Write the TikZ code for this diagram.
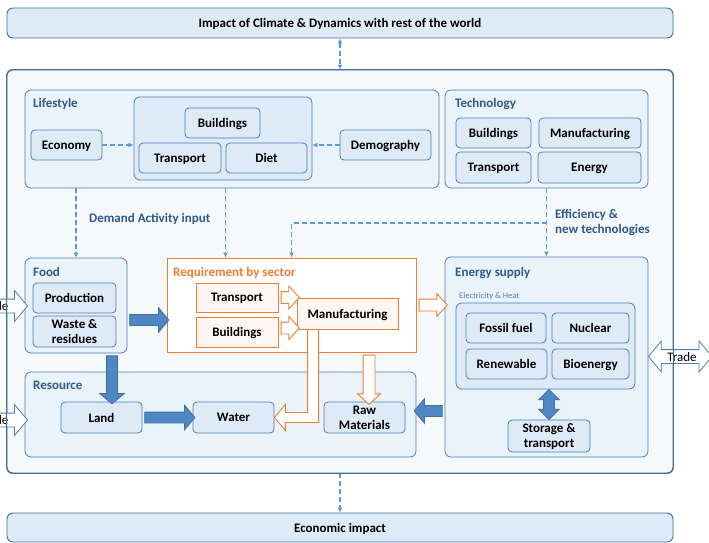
\documentclass[tikz,border=0pt]{standalone}
\usepackage{fontspec}
\setmainfont{Carlito}
\usetikzlibrary{calc,shapes.arrows,arrows.meta}

\definecolor{boxfill}{HTML}{DEEBF7}
\definecolor{grpfill}{HTML}{EAF2FA}
\definecolor{outfill}{HTML}{F6F9FC}
\definecolor{boxline}{HTML}{4E7DB1}
\definecolor{labblue}{HTML}{2F5A8C}
\definecolor{smallblue}{HTML}{5A7FA8}
\definecolor{dashblue}{HTML}{5B9BD5}
\definecolor{fatblue}{HTML}{4F87C5}
\definecolor{fatline}{HTML}{41719C}
\definecolor{sector}{HTML}{ED7D31}
\definecolor{sectfill}{HTML}{FEF6F0}

% block arrow node stretched from one point to another
\newcommand{\blockarrow}[4]{%
  \path let \p1=(#3), \p2=(#4), \n1={veclen(\x2-\x1,\y2-\y1)}, \n2={atan2(\y2-\y1,\x2-\x1)}
    in node[#1, minimum height=\n1, rotate=\n2] (#2) at ($(\p1)!0.5!(\p2)$) {};}

\begin{document}
\begin{tikzpicture}[x=1pt,y=-1pt,
  >={Latex[length=5pt,width=5pt]},
  txt/.style={font=\bfseries\fontsize{13}{15}\selectfont},
  box/.style={txt, draw=boxline, fill=boxfill, rounded corners=4pt, line width=0.8pt, inner sep=1pt, align=center, text depth=0pt},
  bigbox/.style={box, rounded corners=6pt, line width=0.9pt, draw=fatline},
  group/.style={draw=boxline, fill=grpfill, rounded corners=6pt, line width=0.8pt},
  sectbox/.style={txt, draw=sector, fill=sectfill, line width=0.9pt, inner sep=1pt, text depth=0pt},
  lbl/.style={txt, anchor=west, inner sep=0pt, text=labblue, text depth=0pt},
  dasharrow/.style={draw=dashblue, line width=1.2pt, dash pattern=on 5pt off 3pt},
  fatarrow/.style={single arrow, draw=fatline, fill=fatblue, line width=0.8pt, inner xsep=0pt,
    inner ysep=5pt, single arrow head extend=7pt, single arrow tip angle=100},
  fatboth/.style={double arrow, draw=fatline, fill=fatblue, line width=0.8pt, inner xsep=0pt,
    inner ysep=5pt, double arrow head extend=5pt, double arrow tip angle=90},
  openarrow/.style={single arrow, draw=sector, fill=white, line width=0.9pt, inner xsep=0pt,
    inner ysep=5.5pt, single arrow head extend=5.5pt, single arrow tip angle=95},
  tradearrow/.style={single arrow, draw=boxline, fill=white, line width=0.8pt, inner xsep=0pt,
    inner ysep=6.5pt, single arrow head extend=8.5pt, single arrow tip angle=100},
  tradeboth/.style={double arrow, draw=boxline, fill=white, line width=0.8pt, inner xsep=0pt,
    inner ysep=6.5pt, double arrow head extend=8.5pt, double arrow tip angle=100}]

  \fill[white] (0,0) rectangle (709,543);
  \useasboundingbox (0,0) rectangle (709,543);
  \clip (0,0) rectangle (709,543);

  \node[bigbox, minimum width=666pt, minimum height=30pt] (impact) at (340,23)
    {Impact of Climate \& Dynamics with rest of the world};
  \node[bigbox, fill=outfill, minimum width=666pt, minimum height=403pt] (world) at (340,271.5) {};
  \node[bigbox, minimum width=666pt, minimum height=29pt] (ecoimpact) at (340,527.5) {Economic impact};

  % lifestyle
  \node[group, minimum width=414pt, minimum height=98pt] (lifestyle) at (232,139) {};
  \node[lbl] (lslab) at (33,103) {Lifestyle};
  \node[box, minimum width=71pt, minimum height=30pt] (eco) at (66.5,145) {Economy};
  \node[group, fill=boxfill, minimum width=178pt, minimum height=83pt] (lsgroup) at (223,138.5) {};
  \node[box, minimum width=75pt, minimum height=30pt] (lsbuild) at (222.5,123) {Buildings};
  \node[box, minimum width=82pt, minimum height=30pt] (lstrans) at (180,158) {Transport};
  \node[box, minimum width=81pt, minimum height=30pt] (lsdiet) at (266.5,158) {Diet};
  \node[box, minimum width=91pt, minimum height=30pt] (demog) at (385.5,145) {Demography};

  % technology
  \node[group, minimum width=203pt, minimum height=98pt] (tech) at (546.5,139) {};
  \node[lbl] (techlab) at (455,103) {Technology};
  \node[box, minimum width=75pt, minimum height=30pt] (tbuild) at (493.5,133) {Buildings};
  \node[box, minimum width=102pt, minimum height=30pt] (tmanu) at (590,133) {Manufacturing};
  \node[box, minimum width=75pt, minimum height=31pt] (ttrans) at (493.5,167.5) {Transport};
  \node[box, minimum width=103pt, minimum height=31pt] (tenergy) at (589.5,167.5) {Energy};

  % food
  \node[group, minimum width=102pt, minimum height=95pt] (food) at (76,305.5) {};
  \node[lbl] (foodlab) at (33,272) {Food};
  \node[box, minimum width=83pt, minimum height=30pt] (prod) at (74.5,298) {Production};
  \node[box, minimum width=83pt, minimum height=31pt] (waste) at (74.5,331.5) {Waste \&\\residues};

  % requirement by sector
  \node[draw=sector, fill=white, line width=0.9pt, minimum width=249pt, minimum height=94pt] (req) at (291.5,305) {};
  \node[lbl, text=sector] (reqlab) at (173,272) {Requirement by sector};
  \node[sectbox, minimum width=82pt, minimum height=29pt] (rtrans) at (237,297.5) {Transport};
  \node[sectbox, minimum width=82pt, minimum height=30pt] (rbuild) at (237,332) {Buildings};
  \node[sectbox, minimum width=101pt, minimum height=31pt] (rmanu) at (347.5,313.5) {Manufacturing};

  % resource
  \node[group, minimum width=391pt, minimum height=85pt] (resource) at (220.5,414.5) {};
  \node[lbl] (reslab) at (33,385) {Resource};
  \node[box, minimum width=81pt, minimum height=31pt] (land) at (101.5,417.5) {Land};
  \node[box, minimum width=81pt, minimum height=31pt] (water) at (233.5,417.5) {Water};
  \node[box, minimum width=81pt, minimum height=31pt] (raw) at (364.5,417.5) {Raw\\Materials};

  % energy supply
  \node[group, minimum width=203pt, minimum height=200pt] (esupply) at (546.5,357) {};
  \node[lbl] (eslab) at (455,272) {Energy supply};
  \node[anchor=west, inner sep=0pt, text=smallblue, font=\fontsize{8.5}{10}\selectfont] (eleclab) at (459,296) {Electricity \& Heat};
  \node[group, fill=boxfill, minimum width=179pt, minimum height=86pt] (elec) at (545.5,346) {};
  \node[box, minimum width=80pt, minimum height=30pt] (fossil) at (506,328) {Fossil fuel};
  \node[box, minimum width=77pt, minimum height=30pt] (nuclear) at (590.5,328) {Nuclear};
  \node[box, minimum width=81pt, minimum height=30pt] (renew) at (506.5,364) {Renewable};
  \node[box, minimum width=77pt, minimum height=30pt] (bio) at (590.5,364) {Bioenergy};
  \node[box, minimum width=82pt, minimum height=32pt] (storage) at (549,436) {Storage \&\\transport};

  % dashed links
  \draw[dasharrow, <->] (impact.south) -- (world.north);
  \draw[dasharrow, ->] (world.south) -- (ecoimpact.north);
  \draw[dasharrow, ->] (eco.east) -- (eco.east -| lsgroup.west);
  \draw[dasharrow, ->] (demog.west) -- (demog.west -| lsgroup.east);
  \draw[dasharrow, ->] (lifestyle.south -| food.north) -- (food.north);
  \coordinate (rq1) at ($(req.north west)+(59,0)$);
  \coordinate (rq2) at ($(req.north west)+(125,0)$);
  \draw[dasharrow, ->] (lifestyle.south -| rq1) -- (rq1);
  \draw[dasharrow, ->] (tech.south) -- (esupply.north);
  \coordinate (split) at (tech.south |- 0,223);
  \draw[dasharrow, ->] (split) -| (rq2);
  \node[lbl] (demand) at (89,218) {Demand Activity input};
  \node[lbl, align=left] (effic) at (555,221) {Efficiency \&\\new technologies};

  % solid flows
  \coordinate (f1) at ($(food.east)+(0,14.5)$);
  \blockarrow{fatarrow}{foodreq}{f1}{f1 -| req.west}
  \coordinate (f2) at ($(land.north)+(10.5,0)$);
  \blockarrow{fatarrow}{foodland}{food.south -| f2}{f2}
  \blockarrow{fatarrow}{landwater}{land.east}{water.west}
  \coordinate (f3) at ($(resource.east)+(0,-3.5)$);
  \blockarrow{fatarrow}{energyres}{esupply.west |- f3}{f3}
  \blockarrow{fatboth}{elecstore}{storage.north |- elec.south}{storage.north}

  % sector flows
  \blockarrow{openarrow}{transmanu}{rtrans.east}{rtrans.east -| rmanu.west}
  \coordinate (f4) at ($(rbuild.east)+(0,-4)$);
  \blockarrow{openarrow}{buildmanu}{f4}{f4 -| rmanu.west}
  \blockarrow{openarrow}{reqenergy}{req.east}{req.east -| esupply.west}
  \coordinate (f5) at ($(raw.north)+(4.5,0)$);
  \blockarrow{openarrow}{reqraw}{req.south -| f5}{f5}
  \coordinate (e1) at ($(rmanu.south west)+(11,0)$);
  \coordinate (e2) at ($(rmanu.south west)+(22,0)$);
  \draw[draw=sector, fill=white, line width=0.9pt] (e1) -- ($(e1 |- water.east)+(0,-5)$)
    -- ($(water.east)+(11,-5)$) -- ($(water.east)+(11,-13)$) -- (water.east)
    -- ($(water.east)+(11,13)$) -- ($(water.east)+(11,5)$) -- ($(e2 |- water.east)+(0,5)$)
    -- (e2) -- cycle;

  % trade
  \coordinate (tradeR) at (712,356.5);
  \blockarrow{tradeboth}{traderight}{esupply.east |- tradeR}{tradeR}
  \node[font=\fontsize{13}{15}\selectfont, inner sep=0pt, text depth=0pt] (tradetxt) at (682,357) {Trade};
  \coordinate (tradeF) at (-60,306);
  \blockarrow{tradearrow}{tradefood}{tradeF}{food.west |- tradeF}
  \node[font=\fontsize{13}{15}\selectfont, inner sep=0pt, text depth=0pt, anchor=east] (tradetxtF) at (8.5,306) {Trade};
  \coordinate (tradeS) at (-60,420);
  \blockarrow{tradearrow}{traderes}{tradeS}{resource.west |- tradeS}
  \node[font=\fontsize{13}{15}\selectfont, inner sep=0pt, text depth=0pt, anchor=east] (tradetxtS) at (8.5,420) {Trade};

  \draw[draw=fatline, line width=0.9pt, rounded corners=6pt] (world.north west) rectangle (world.south east);
\end{tikzpicture}
\end{document}
